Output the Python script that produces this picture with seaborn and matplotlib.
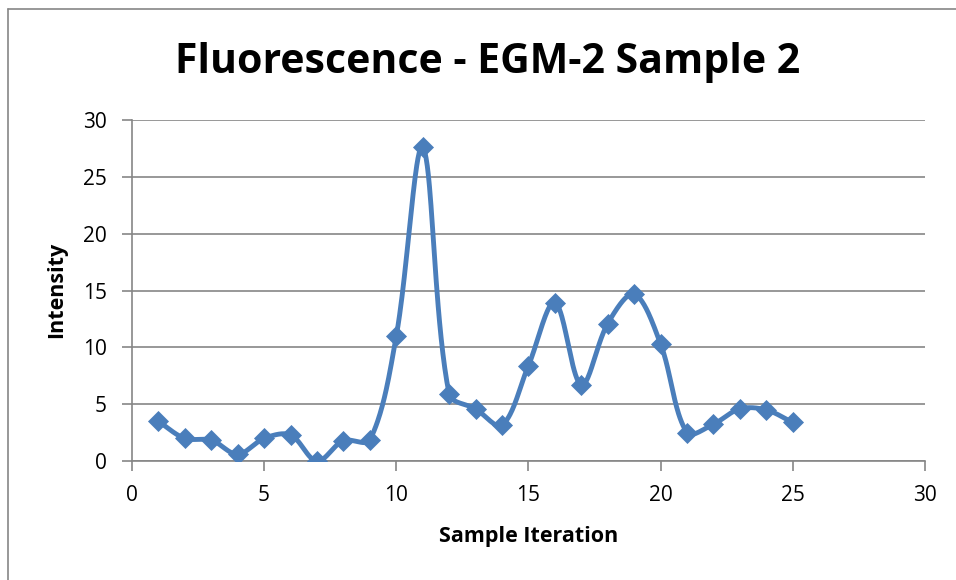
import numpy as np
import pandas as pd
import matplotlib
matplotlib.use("Agg")
import matplotlib.pyplot as plt
import seaborn as sns
from matplotlib.lines import Line2D

iterations = list(range(1, 26))
intensity = [3.5, 2.0, 1.85, 0.6, 2.0, 2.3, 0.0, 1.8, 1.85, 11.0,
             27.6, 5.9, 4.6, 3.15, 8.4, 13.95, 6.7, 12.1, 14.7, 10.3,
             2.5, 3.25, 4.6, 4.5, 3.4]
x_ticks = [0, 5, 10, 15, 20, 25, 30]
y_ticks = [0, 5, 10, 15, 20, 25, 30]
title = "Fluorescence - EGM-2 Sample 2"
xlabel = "Sample Iteration"
ylabel = "Intensity"
color = "#4A7EBB"

sns.set_theme(style="white")
plt.rcParams['font.family'] = ['Open Sans', 'DejaVu Sans']

df = pd.DataFrame({"x": iterations, "y": intensity})

# Excel-like smoothing: Bezier through the data, arms proportional to segment lengths
def smooth(xs, ys, sx=26.43, sy=11.37, n=40):
    P = np.column_stack([np.asarray(xs, float) * sx, np.asarray(ys, float) * sy])
    m = len(P)
    def arms(i):
        p0 = P[i - 1] if i > 0 else P[i]
        p2 = P[i + 1] if i < m - 1 else P[i]
        T = p2 - p0
        d0 = np.linalg.norm(P[i] - p0)
        d1 = np.linalg.norm(p2 - P[i])
        tot = d0 + d1 if d0 + d1 > 0 else 1.0
        return T * d0 / tot / 3.0, T * d1 / tot / 3.0  # back, forward
    out = []
    for i in range(m - 1):
        p1, p2 = P[i], P[i + 1]
        c1 = p1 + arms(i)[1]
        c2 = p2 - arms(i + 1)[0]
        t = np.linspace(0, 1, n)[:, None]
        seg = ((1 - t) ** 3) * p1 + 3 * ((1 - t) ** 2) * t * c1 + 3 * (1 - t) * t ** 2 * c2 + t ** 3 * p2
        out.append(seg if i == 0 else seg[1:])
    C = np.vstack(out)
    return C[:, 0] / sx, C[:, 1] / sy

fig = plt.figure(figsize=(9.56, 5.8), dpi=100)
W, H = 956.0, 580.0
bx, by = 8.0 / W, 1 - 8.5 / H
fig.lines.append(Line2D([bx, bx], [-0.01, by], transform=fig.transFigure,
                        color="#868686", linewidth=1.2))
fig.lines.append(Line2D([bx, 1.01], [by, by], transform=fig.transFigure,
                        color="#868686", linewidth=1.2))
ax = fig.add_axes([0.138, 0.205, 0.8295, 0.588])

cx, cy = smooth(iterations, intensity)
sm = pd.DataFrame({"x": cx, "y": cy})
sns.lineplot(data=sm, x="x", y="y", ax=ax, color=color, linewidth=3.5, sort=False,
             estimator=None)
sns.scatterplot(data=df, x="x", y="y", ax=ax, color=color, marker="D", s=115,
                edgecolor=color, linewidth=0, zorder=5)

ax.set_xlim(0, 30)
ax.set_ylim(0, 30)
ax.set_xticks(x_ticks)
ax.set_yticks(y_ticks)
ax.yaxis.grid(True, color="#868686", linewidth=1.2)
ax.xaxis.grid(False)
for s in ["top", "right"]:
    ax.spines[s].set_visible(False)
for s in ["left", "bottom"]:
    ax.spines[s].set_color("#868686")
    ax.spines[s].set_linewidth(1.2)
ax.tick_params(axis="both", direction="out", length=7, width=1.2, color="#868686",
               labelsize=15, labelcolor="black", bottom=True, left=True)
ax.tick_params(axis="x", pad=10)
ax.tick_params(axis="y", pad=11)
ax.set_xlabel(xlabel, fontsize=15.5, fontweight="bold", color="black")
ax.set_ylabel(ylabel, fontsize=15.5, fontweight="bold", color="black")
ax.xaxis.label.set_va("center")
ax.yaxis.label.set_va("center")
ax.xaxis.set_label_coords(0.5, -75 / 341)
ax.yaxis.set_label_coords(-75 / 793, 0.501)
fig.text(0.5105, 0.893, title, ha="center", va="center", fontsize=29.5,
         fontweight="bold", color="black")

fig.savefig("out.png", dpi=100)
